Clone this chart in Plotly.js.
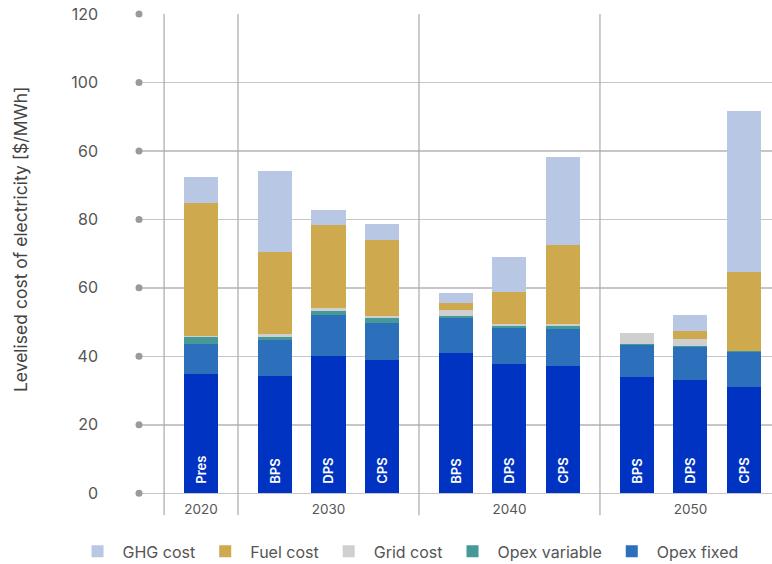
<!DOCTYPE html>
<html>
<head>
<meta charset="utf-8">
<script src="https://cdn.plot.ly/plotly-3.0.1.min.js"></script>
<style>html,body{margin:0;padding:0;background:#fff;}#chart{width:772px;height:564px;}</style>
</head>
<body>
<div id="chart"></div>
<script>
// ---- data ----
const years = ['2020', '2030', '2040', '2050'];
const groupOf = [0, 1, 1, 1, 2, 2, 2, 3, 3, 3];
const scenarios = ['Pres', 'BPS', 'DPS', 'CPS', 'BPS', 'DPS', 'CPS', 'BPS', 'DPS', 'CPS'];
const capex        = [34.8, 34.2, 40.0, 38.9, 40.9, 37.7, 37.1, 33.9, 33.0, 31.0];
const opexFixed    = [8.8, 10.5, 12.0, 10.8, 10.3, 10.5, 10.8, 9.4, 9.7, 10.2];
const opexVariable = [2.0, 0.9, 1.2, 1.5, 0.5, 0.6, 0.9, 0.3, 0.3, 0.3];
const gridCost     = [0.4, 1.0, 1.0, 0.6, 1.8, 0.6, 0.6, 3.2, 2.0, 0.0];
const fuelCost     = [38.8, 23.8, 24.1, 22.2, 2.0, 9.4, 23.1, 0.0, 2.4, 23.1];
const ghgCost      = [7.6, 23.7, 4.4, 4.8, 3.0, 10.2, 25.7, 0.0, 4.6, 47.1];
const yTickValues  = [0, 20, 40, 60, 80, 100, 120, 140];
const yTickLabels  = ['0', '20', '40', '60', '80', '60', '100', '120'];
const yTitle = 'Levelised cost of electricity [$/MWh]';

// ---- layout helpers ----
const Y_MIN = -0.8, Y_MAX = 140;
const GAP = 0.383;       // extra spacing between year groups (in bar slots)
const HALF_GROUP = 0.69; // half of group spacing around outer edges
const xPos = scenarios.map((s, i) => i + groupOf[i] * GAP);

const groupCenters = years.map((y, g) => {
  const p = xPos.filter((v, i) => groupOf[i] === g);
  return p.reduce((a, b) => a + b, 0) / p.length;
});
const dividers = [xPos[0] - HALF_GROUP];
for (let i = 1; i < xPos.length; i++) {
  if (groupOf[i] !== groupOf[i - 1]) dividers.push((xPos[i] + xPos[i - 1]) / 2);
}

const FONT = 'Inter, "Noto Sans", sans-serif';
const BW = 0.636;
function bar(name, vals, color, extra) {
  return Object.assign({
    type: 'bar', name: name, x: xPos, y: vals, width: BW,
    marker: {color: color, line: {width: 0}},
    hoverinfo: 'name+y'
  }, extra || {});
}

const traces = [
  bar('Capex', capex, '#0033c2', {
    showlegend: false,
    text: scenarios.map(s => '\u2002' + s), textposition: 'inside', insidetextanchor: 'start',
    textangle: -90, constraintext: 'none',
    textfont: {color: '#ffffff', size: 13, family: FONT, weight: 600}
  }),
  bar('Opex fixed', opexFixed, '#2c6fbb'),
  bar('Opex variable', opexVariable, '#459a97'),
  bar('Grid cost', gridCost, '#d0cfcf'),
  bar('Fuel cost', fuelCost, '#cfa94d'),
  bar('GHG cost', ghgCost, '#b8c8e4')
];

const span = Y_MAX - Y_MIN;
const shapes = [];
dividers.forEach(d => shapes.push({
  type: 'line', xref: 'x', yref: 'paper', x0: d, x1: d, y0: -0.04, y1: 1,
  line: {color: '#aaaaaa', width: 1.2}, layer: 'above'
}));
yTickValues.forEach(v => shapes.push({
  type: 'circle', xref: 'paper', yref: 'paper',
  xsizemode: 'pixel', xanchor: 0, x0: -3.5, x1: 3.5,
  ysizemode: 'pixel', yanchor: (v - Y_MIN) / span, y0: -3.5, y1: 3.5,
  fillcolor: '#9a9a9a', line: {width: 0}
}));

const layout = {
  width: 772, height: 564,
  margin: {l: 139, r: 0, t: 14, b: 68, pad: 0, autoexpand: false},
  paper_bgcolor: '#ffffff', plot_bgcolor: '#ffffff',
  barmode: 'stack',
  font: {family: FONT, color: '#555555'},
  xaxis: {
    range: [-1.159, 10.673], tickvals: groupCenters, ticktext: years,
    showgrid: false, zeroline: false, showline: false, ticks: '',
    ticklabelstandoff: 3,
    tickfont: {size: 13.5, color: '#555555', family: FONT}
  },
  yaxis: {
    range: [Y_MIN, Y_MAX], tickvals: yTickValues, ticktext: yTickLabels,
    showgrid: true, gridcolor: '#c6c6c6', gridwidth: 1.5,
    zeroline: true, zerolinecolor: '#c6c6c6', zerolinewidth: 1.5,
    showline: false, ticks: '',
    ticklabelstandoff: 40,
    tickfont: {size: 16, color: '#555555', family: FONT}
  },
  annotations: [{
    text: yTitle, textangle: -90, showarrow: false,
    xref: 'paper', yref: 'paper', x: -0.188, y: 0.533,
    xanchor: 'center', yanchor: 'middle',
    font: {size: 17.5, color: '#444444', family: FONT}
  }],
  legend: {
    orientation: 'h', traceorder: 'reversed',
    x: -0.105, xanchor: 'left', y: -0.115, yanchor: 'middle',
    itemwidth: 40,
    font: {size: 16, color: '#555555', family: FONT},
    itemclick: false
  },
  shapes: shapes,
  showlegend: true
};

Plotly.newPlot('chart', traces, layout, {displayModeBar: false, staticPlot: true});
</script>
</body>
</html>
